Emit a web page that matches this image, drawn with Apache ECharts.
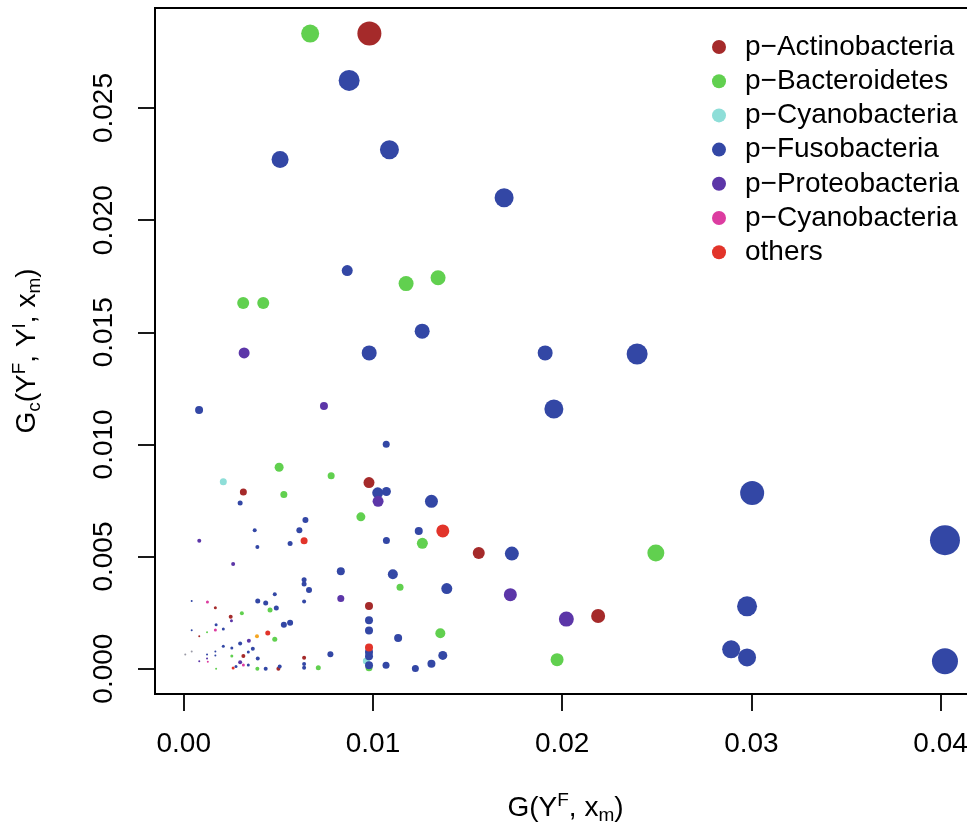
<!DOCTYPE html>
<html>
<head>
<meta charset="utf-8">
<script src="https://cdn.jsdelivr.net/npm/echarts@6/dist/echarts.min.js"></script>
<style>
html,body{margin:0;padding:0;background:#fff;}
#chart{width:967px;height:825px;}
</style>
</head>
<body>
<div id="chart"></div>
<script>
// ---- data: [G(Y^F,x_m), Gc(Y^F,Y^I,x_m), relative weight] ----
const actinobacteria = [
  [0.00981, 0.02832, 0.24], [0.00979, 0.00830, 0.11], [0.01559, 0.00516, 0.12],
  [0.02190, 0.00235, 0.14], [0.00315, 0.00788, 0.07], [0.00979, 0.00279, 0.08],
  [0.00636, 0.00049, 0.04], [0.00167, 0.00272, 0.03], [0.00248, 0.00232, 0.04],
  [0.00082, 0.00144, 0.02], [0.00315, 0.00056, 0.04], [0.00500, 0.00000, 0.04]
];
const bacteroidetes = [
  [0.00668, 0.02832, 0.18], [0.01175, 0.01717, 0.15], [0.01344, 0.01743, 0.15],
  [0.00314, 0.01631, 0.12], [0.00420, 0.01631, 0.12], [0.00504, 0.00898, 0.09],
  [0.00529, 0.00777, 0.07], [0.00779, 0.00860, 0.07], [0.00936, 0.00677, 0.09],
  [0.01261, 0.00559, 0.11], [0.02495, 0.00516, 0.17], [0.01143, 0.00363, 0.07],
  [0.01356, 0.00158, 0.10], [0.01973, 0.00040, 0.13], [0.00711, 0.00004, 0.05],
  [0.00979, 0.00004, 0.07], [0.00456, 0.00262, 0.05], [0.00307, 0.00247, 0.04],
  [0.00123, 0.00162, 0.02], [0.00481, 0.00131, 0.05], [0.00254, 0.00056, 0.03],
  [0.00389, 0.00000, 0.04], [0.00171, 0.00000, 0.02]
];
const cyanobacteria = [
  [0.00209, 0.00833, 0.07], [0.00965, 0.00034, 0.07]
];
const fusobacteria = [
  [0.00874, 0.02623, 0.21], [0.00509, 0.02270, 0.17], [0.01087, 0.02314, 0.19],
  [0.01693, 0.02100, 0.19], [0.00864, 0.01775, 0.11], [0.01260, 0.01505, 0.15],
  [0.00980, 0.01408, 0.15], [0.01910, 0.01408, 0.15], [0.02396, 0.01403, 0.21],
  [0.00081, 0.01153, 0.08], [0.01956, 0.01158, 0.19], [0.01070, 0.01001, 0.07],
  [0.03004, 0.00783, 0.24], [0.04023, 0.00573, 0.30], [0.02977, 0.00278, 0.20],
  [0.02893, 0.00086, 0.18], [0.02977, 0.00050, 0.18], [0.04023, 0.00033, 0.26],
  [0.01025, 0.00784, 0.11], [0.01071, 0.00790, 0.09], [0.01309, 0.00746, 0.13],
  [0.01242, 0.00614, 0.08], [0.01071, 0.00571, 0.07], [0.01734, 0.00513, 0.14],
  [0.00830, 0.00434, 0.08], [0.01105, 0.00421, 0.10], [0.01390, 0.00357, 0.11],
  [0.00979, 0.00216, 0.08], [0.00979, 0.00170, 0.08], [0.01133, 0.00137, 0.08],
  [0.00775, 0.00064, 0.06], [0.00979, 0.00074, 0.08], [0.00979, 0.00055, 0.08],
  [0.00979, 0.00015, 0.08], [0.01069, 0.00015, 0.07], [0.01224, 0.00001, 0.07],
  [0.01309, 0.00022, 0.08], [0.01369, 0.00059, 0.09], [0.00298, 0.00739, 0.05],
  [0.00643, 0.00663, 0.06], [0.00375, 0.00617, 0.04], [0.00611, 0.00617, 0.06],
  [0.00562, 0.00558, 0.05], [0.00389, 0.00543, 0.04], [0.00636, 0.00397, 0.05],
  [0.00636, 0.00378, 0.05], [0.00662, 0.00351, 0.06], [0.00636, 0.00299, 0.04],
  [0.00636, 0.00021, 0.04], [0.00636, 0.00004, 0.04], [0.00481, 0.00332, 0.04],
  [0.00391, 0.00302, 0.05], [0.00433, 0.00293, 0.05], [0.00489, 0.00271, 0.05],
  [0.00042, 0.00302, 0.02], [0.00171, 0.00196, 0.03], [0.00209, 0.00177, 0.03],
  [0.00042, 0.00171, 0.02], [0.00529, 0.00196, 0.06], [0.00562, 0.00205, 0.06],
  [0.00298, 0.00112, 0.04], [0.00209, 0.00100, 0.03], [0.00254, 0.00092, 0.03],
  [0.00365, 0.00089, 0.04], [0.00341, 0.00074, 0.03], [0.00167, 0.00077, 0.02],
  [0.00123, 0.00063, 0.02], [0.00167, 0.00059, 0.02], [0.00391, 0.00045, 0.04],
  [0.00276, 0.00010, 0.03], [0.00341, 0.00016, 0.03], [0.00433, 0.00000, 0.04],
  [0.00507, 0.00010, 0.04]
];
const proteobacteria = [
  [0.00319, 0.01408, 0.11], [0.00741, 0.01171, 0.08], [0.01027, 0.00746, 0.11],
  [0.00082, 0.00570, 0.04], [0.00261, 0.00467, 0.04], [0.01726, 0.00330, 0.13],
  [0.02022, 0.00221, 0.15], [0.00830, 0.00313, 0.07], [0.00252, 0.00214, 0.03],
  [0.00344, 0.00125, 0.04], [0.00298, 0.00029, 0.04], [0.00123, 0.00045, 0.02],
  [0.00082, 0.00033, 0.02]
];
const cyanobacteria2 = [
  [0.00125, 0.00297, 0.03], [0.00167, 0.00172, 0.03], [0.00127, 0.00031, 0.02],
  [0.00315, 0.00016, 0.03]
];
const others = [
  [0.00636, 0.00570, 0.07], [0.01369, 0.00614, 0.13], [0.00979, 0.00094, 0.08],
  [0.00444, 0.00159, 0.05], [0.00261, 0.00003, 0.03]
];
const unlisted = [
  [0.00387, 0.00144, 0.04]
];
const unlistedGray = [
  [0.00008, 0.00063, 0.02], [0.00042, 0.00077, 0.02]
];
const legendNames = ['p\u2212Actinobacteria', 'p\u2212Bacteroidetes', 'p\u2212Cyanobacteria',
  'p\u2212Fusobacteria', 'p\u2212Proteobacteria', 'p\u2212Cyanobacteria ', 'others'];
const xTicks = [0, 0.01, 0.02, 0.03, 0.04];
const yTicks = [0, 0.005, 0.010, 0.015, 0.020, 0.025];

const FONT = '"Liberation Sans", Arial, Helvetica, sans-serif';
const SIZE_SCALE = 100;
const groups = [
  [legendNames[0], actinobacteria, '#A52A2A'],
  [legendNames[1], bacteroidetes, '#61D04F'],
  [legendNames[2], cyanobacteria, '#8EDED8'],
  [legendNames[3], fusobacteria, '#3347A5'],
  [legendNames[4], proteobacteria, '#5C36A8'],
  [legendNames[5], cyanobacteria2, '#DC3CA0'],
  [legendNames[6], others, '#E2342A'],
  ['unclassified', unlisted, '#F5A623'],
  ['unclassified2', unlistedGray, '#9A9AA6']
];

const richName = {
  n: {fontSize: 28, lineHeight: 34, fontFamily: FONT, color: '#000'},
  sup: {fontSize: 19, lineHeight: 21, fontFamily: FONT, color: '#000', verticalAlign: 'top'},
  sub: {fontSize: 19, lineHeight: 21, fontFamily: FONT, color: '#000', verticalAlign: 'bottom'}
};

const chart = echarts.init(document.getElementById('chart'), null, {renderer: 'canvas'});
chart.setOption({
  animation: false,
  backgroundColor: '#fff',
  grid: {left: 155, top: 8, width: 821, height: 686, show: true, borderColor: '#000', borderWidth: 2,
         backgroundColor: 'transparent', containLabel: false, outerBoundsMode: 'none'},
  legend: {
    data: legendNames, orient: 'vertical', left: 707, top: 25, icon: 'circle',
    itemWidth: 14, itemHeight: 14, itemGap: 0.2,
    textStyle: {fontSize: 28, fontFamily: FONT, color: '#000', lineHeight: 34, padding: [0, 0, 0, 14]},
    selectedMode: false
  },
  xAxis: {
    type: 'value', min: -0.00152, max: 0.04187,
    splitLine: {show: false}, axisLine: {show: false, onZero: false},
    axisTick: {show: true, customValues: xTicks, length: 17, lineStyle: {color: '#000', width: 1.8}},
    axisLabel: {customValues: xTicks, formatter: v => v.toFixed(2), fontSize: 28, fontFamily: FONT, color: '#000', margin: 36},
    name: '{n|G(Y}{sup|F}{n|, x}{sub|m}{n|)}', nameLocation: 'middle', nameGap: 97,
    nameTextStyle: {rich: richName}
  },
  yAxis: {
    type: 'value', min: -0.00113, max: 0.02946,
    splitLine: {show: false}, axisLine: {show: false, onZero: false},
    axisTick: {show: true, customValues: yTicks, length: 17, lineStyle: {color: '#000', width: 1.8}},
    axisLabel: {customValues: yTicks, formatter: v => v.toFixed(3), rotate: 90, fontSize: 28, fontFamily: FONT, color: '#000', margin: 37},
    name: '{n|G}{sub|c}{n|(Y}{sup|F}{n|, Y}{sup|I}{n|, x}{sub|m}{n|)}', nameLocation: 'middle', nameGap: 111,
    nameTextStyle: {rich: richName}
  },
  series: groups.map(g => ({
    type: 'scatter', name: g[0], data: g[1],
    symbol: 'circle', symbolSize: v => v[2] * SIZE_SCALE,
    itemStyle: {color: g[2], opacity: 1},
    emphasis: {disabled: true}
  }))
});
</script>
</body>
</html>
